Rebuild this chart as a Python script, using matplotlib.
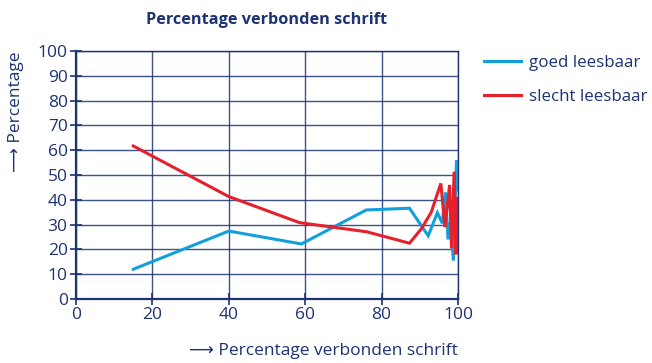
import matplotlib
matplotlib.use("Agg")
import matplotlib.pyplot as plt

# Percentage verbonden schrift vs. percentage leerlingen
goed_x = [15, 40, 59, 76, 87.3, 92.2, 94.6, 95.9, 96.7, 97.4, 98.0, 98.8, 99.6, 100]
goed_y = [12, 27.4, 22.2, 35.9, 36.6, 25.5, 34.8, 30.5, 43.0, 24.0, 31.0, 15.5, 56.0, 44.0]

slecht_x = [15, 40, 58.5, 76.1, 87.3, 90.5, 93.0, 95.5, 96.6, 97.8, 98.3, 99.0, 99.4, 99.9, 100]
slecht_y = [61.7, 41.3, 30.8, 27.1, 22.5, 28.5, 35.0, 46.6, 29.0, 46.0, 20.5, 51.3, 18.0, 41.0, 19.0]

x_ticks = [0, 20, 40, 60, 80, 100]
y_ticks = [0, 10, 20, 30, 40, 50, 60, 70, 80, 90, 100]

title = "Percentage verbonden schrift"
x_label = "\u27f6 Percentage verbonden schrift"
y_label = "\u27f6 Percentage"
series_names = ["goed leesbaar", "slecht leesbaar"]

NAVY = "#1d3372"
BLUE = "#12a0dc"
RED = "#e5202a"
FONT = ["Open Sans", "DejaVu Sans"]

plt.rcParams["font.family"] = FONT

fig = plt.figure(figsize=(6.52, 3.63), dpi=100)
ax = fig.add_axes([76 / 652, 1 - 299 / 363, (458 - 76) / 652, (299 - 51) / 363])

ax.plot(goed_x, goed_y, color=BLUE, lw=2.2, label=series_names[0], solid_joinstyle="miter")
ax.plot(slecht_x, slecht_y, color=RED, lw=2.2, label=series_names[1], solid_joinstyle="miter")

ax.set_xlim(0, 100)
ax.set_ylim(0, 100)
ax.set_xticks(x_ticks)
ax.set_yticks(y_ticks)
ax.grid(True, color=NAVY, lw=1.0, alpha=0.85)
ax.set_axisbelow(True)

for name, sp in ax.spines.items():
    sp.set_color(NAVY)
    sp.set_linewidth(1.6 if name in ("left", "bottom") else 1.0)

ax.tick_params(axis="both", direction="inout", length=8, width=1.2, color=NAVY,
               labelcolor=NAVY, labelsize=12.5, pad=2)

fig.text(267 / 652, 1 - 20 / 363, title, ha="center", va="center",
         fontsize=11.7, fontweight="bold", color=NAVY)
fig.text(458 / 652, 1 - 351 / 363, x_label, ha="right", va="center",
         fontsize=12.5, color=NAVY)
fig.text(16 / 652, 1 - 52 / 363, y_label, ha="center", va="top", rotation=90,
         fontsize=12.5, color=NAVY)

leg = fig.legend(loc="upper left", bbox_to_anchor=(477 / 652, 1 - 48 / 363),
                 frameon=False, fontsize=12.2, handlelength=2.2, handletextpad=0.45,
                 labelspacing=1.08, labelcolor=NAVY, borderaxespad=0)

fig.savefig("out.png", dpi=100)
